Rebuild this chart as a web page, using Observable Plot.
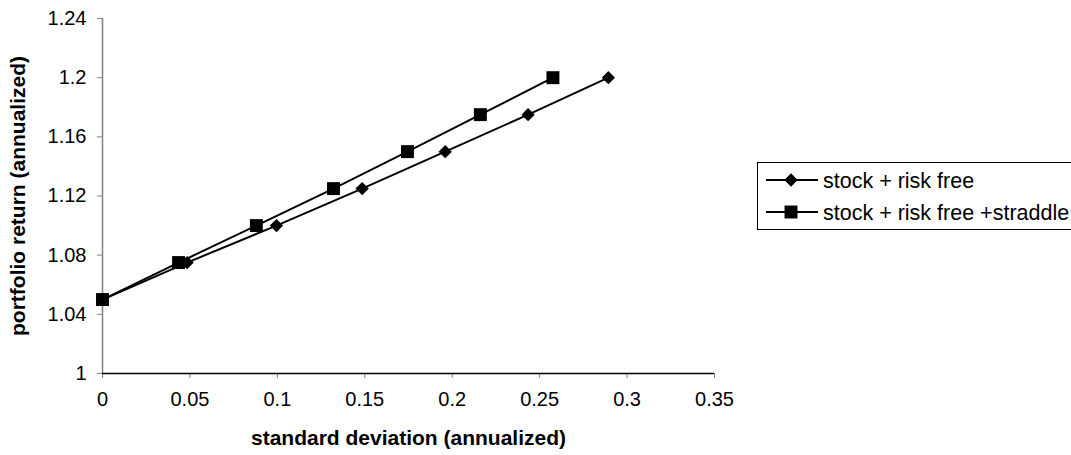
<!DOCTYPE html>
<html>
<head>
<meta charset="utf-8">
<script src="https://cdn.jsdelivr.net/npm/d3@7"></script>
<script src="https://cdn.jsdelivr.net/npm/@observablehq/plot@0.6"></script>
<style>
  body { margin: 0; background: #fff; }
  #wrap { position: relative; width: 1071px; height: 455px; overflow: hidden; }
  #legend { position: absolute; left: 0; top: 0; pointer-events: none; }
</style>
</head>
<body>
<div id="wrap"></div>
<script>
const seriesNames = ["stock + risk free", "stock + risk free +straddle"];
const sdStock = [0, 0.0484, 0.0995, 0.1485, 0.196, 0.2434, 0.2893];
const retStock = [1.05, 1.075, 1.1, 1.125, 1.15, 1.175, 1.2];
const sdStraddle = [0, 0.0435, 0.088, 0.1321, 0.1744, 0.2161, 0.2576];
const retStraddle = [1.05, 1.075, 1.1, 1.125, 1.15, 1.175, 1.2];
const xTicks = [0, 0.05, 0.1, 0.15, 0.2, 0.25, 0.3, 0.35];
const xTickLabels = ["0", "0.05", "0.1", "0.15", "0.2", "0.25", "0.3", "0.35"];
const yTicks = [1, 1.04, 1.08, 1.12, 1.16, 1.2, 1.24];
const yTickLabels = ["1", "1.04", "1.08", "1.12", "1.16", "1.2", "1.24"];
const xTitle = "standard deviation (annualized)";
const yTitle = "portfolio return (annualized)";

const stock = sdStock.map((x, i) => ({x, y: retStock[i], series: seriesNames[0]}));
const straddle = sdStraddle.map((x, i) => ({x, y: retStraddle[i], series: seriesNames[1]}));

const font = "'Liberation Sans', Arial, sans-serif";
const W = 1071, H = 455;
const mL = 102, mR = 357, mT = 18, mB = 82;
const rDiamond = 6, rSquare = 7.3;

const chart = Plot.plot({
  width: W, height: H,
  marginLeft: mL, marginRight: mR, marginTop: mT, marginBottom: mB,
  style: {fontFamily: font, fontSize: "20px", background: "#fff", color: "#000", overflow: "visible"},
  x: {domain: [0, 0.35]},
  y: {domain: [1, 1.24]},
  marks: [
    Plot.axisX({ticks: xTicks, tickFormat: d => xTickLabels[xTicks.indexOf(d)], tickSize: 5, tickPadding: 13, stroke: "#808080", fill: "#000", fontSize: 20, label: null}),
    Plot.axisY({ticks: yTicks, tickFormat: d => yTickLabels[yTicks.indexOf(d)], tickSize: 5, tickPadding: 11, stroke: "#808080", fill: "#000", fontSize: 20, label: null}),
    Plot.ruleX([0], {stroke: "#808080", strokeWidth: 1.5}),
    Plot.ruleY([1], {stroke: "#000", strokeWidth: 1.5}),
    Plot.line(stock, {x: "x", y: "y", stroke: "#000", strokeWidth: 2}),
    Plot.line(straddle, {x: "x", y: "y", stroke: "#000", strokeWidth: 2}),
    Plot.dot(stock, {x: "x", y: "y", symbol: "diamond2", r: rDiamond, fill: "#000", stroke: "none"}),
    Plot.dot(straddle, {x: "x", y: "y", symbol: "square", r: rSquare, fill: "#000", stroke: "none"}),
    Plot.text([xTitle], {frameAnchor: "bottom", dy: 65, fontWeight: "bold", fontSize: 21, textAnchor: "middle", lineAnchor: "middle"}),
    Plot.text([yTitle], {frameAnchor: "left", dx: -84, rotate: -90, fontWeight: "bold", fontSize: 21, textAnchor: "middle", lineAnchor: "middle"})
  ]
});
document.getElementById("wrap").appendChild(chart);

// legend overlay
const leg = d3.select("#wrap").append("svg")
  .attr("id", "legend").attr("width", W).attr("height", H);
leg.append("rect").attr("x", 757.5).attr("y", 162.5).attr("width", 330).attr("height", 67)
  .attr("fill", "#fff").attr("stroke", "#000").attr("stroke-width", 1);
const symbols = [d3.symbol(d3.symbolDiamond2, Math.PI * rDiamond * rDiamond), d3.symbol(d3.symbolSquare, Math.PI * rSquare * rSquare)];
const rowY = [180, 212];
seriesNames.forEach((name, i) => {
  const g = leg.append("g");
  g.append("line").attr("x1", 766).attr("x2", 818).attr("y1", rowY[i]).attr("y2", rowY[i])
    .attr("stroke", "#000").attr("stroke-width", 2);
  g.append("path").attr("d", symbols[i]()).attr("transform", `translate(791,${rowY[i]})`).attr("fill", "#000");
  g.append("text").attr("x", 823).attr("y", rowY[i]).attr("dy", "0.35em")
    .attr("font-family", font).attr("font-size", 21.5).attr("fill", "#000").text(name);
});
</script>
</body>
</html>
